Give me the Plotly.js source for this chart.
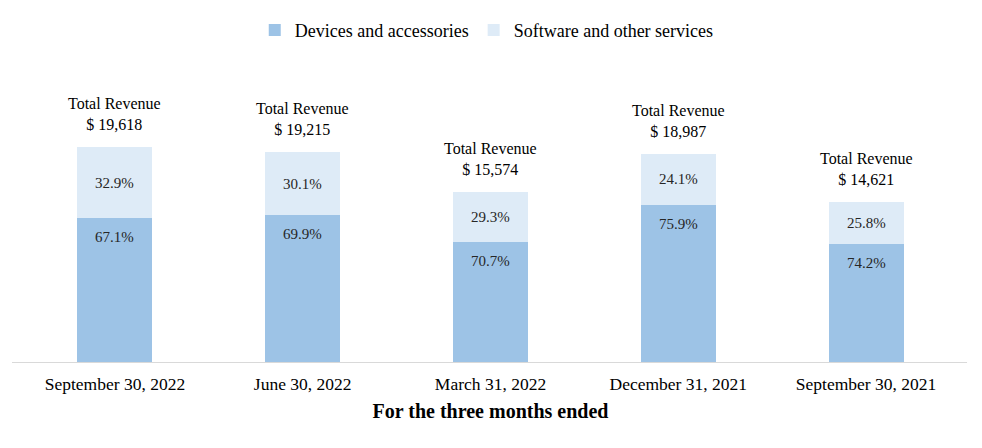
<!DOCTYPE html>
<html>
<head>
<meta charset="utf-8">
<script src="https://cdn.plot.ly/plotly-3.0.1.min.js"></script>
<style>
  html, body { margin: 0; padding: 0; background: #fff; }
  #chart { width: 982px; height: 448px; }
</style>
</head>
<body>
<div id="chart"></div>
<script>
// Trimestres (más reciente primero)
const quarters = ['September 30, 2022', 'June 30, 2022', 'March 31, 2022', 'December 31, 2021', 'September 30, 2021'];
const totalRevenue = [19618, 19215, 15574, 18987, 14621];
const devicesPct = [67.1, 69.9, 70.7, 75.9, 74.2];
const softwarePct = [32.9, 30.1, 29.3, 24.1, 25.8];

const fontFam = '"Liberation Serif", "Times New Roman", serif';

// Altura de cada segmento = total * porcentaje
const devicesVal = totalRevenue.map((t, i) => t * devicesPct[i] / 100);
const softwareVal = totalRevenue.map((t, i) => t * softwarePct[i] / 100);

const data = [
    {
        type: 'bar',
        name: 'Devices and accessories',
        x: quarters,
        y: devicesVal,
        marker: { color: '#9dc3e6' },
        hoverinfo: 'skip'
    },
    {
        type: 'bar',
        name: 'Software and other services',
        x: quarters,
        y: softwareVal,
        marker: { color: '#deebf7' },
        hoverinfo: 'skip'
    }
];

// Etiquetas: total encima, porcentajes dentro de cada segmento
const annotations = [];
quarters.forEach((q, i) => {
    annotations.push({
        x: q, y: totalRevenue[i], xref: 'x', yref: 'y',
        yanchor: 'bottom', yshift: 12, showarrow: false,
        text: 'Total Revenue<br>$ ' + totalRevenue[i].toLocaleString('en-US'),
        font: { family: fontFam, size: 16, color: '#000' }
    });
    annotations.push({
        x: q, y: devicesVal[i] + softwareVal[i] / 2, xref: 'x', yref: 'y',
        showarrow: false, text: softwarePct[i].toFixed(1) + '%',
        font: { family: fontFam, size: 15, color: '#262626' }
    });
    annotations.push({
        x: q, y: devicesVal[i], xref: 'x', yref: 'y',
        yanchor: 'top', yshift: -9, showarrow: false,
        text: devicesPct[i].toFixed(1) + '%',
        font: { family: fontFam, size: 15, color: '#262626' }
    });
});

const layout = {
    width: 982,
    height: 448,
    barmode: 'stack',
    bargap: 0.6,
    margin: { l: 21, r: 22, t: 100, b: 85 },
    paper_bgcolor: '#fff',
    plot_bgcolor: '#fff',
    font: { family: fontFam, color: '#000' },
    showlegend: true,
    legend: {
        orientation: 'h',
        traceorder: 'normal',
        x: 0.496, xanchor: 'center',
        y: 1.28, yanchor: 'middle',
        font: { family: fontFam, size: 18, color: '#000' },
        tracegroupgap: 0
    },
    xaxis: {
        showline: false,
        ticks: 'outside',
        ticklen: 5,
        tickcolor: 'rgba(0,0,0,0)',
        tickfont: { family: fontFam, size: 17.5, color: '#000' },
        title: {
            text: '<b>For the three months ended</b>',
            font: { family: fontFam, size: 20, color: '#000' },
            standoff: 10
        },
        fixedrange: true
    },
    yaxis: {
        range: [0, 23650],
        visible: false,
        showgrid: false,
        zeroline: false,
        fixedrange: true
    },
    shapes: [{
        type: 'line', xref: 'paper', yref: 'y',
        x0: -0.0096, x1: 1.0075, y0: 0, y1: 0,
        line: { color: '#d9d9d9', width: 2 }
    }],
    annotations: annotations
};

Plotly.newPlot('chart', data, layout, { displayModeBar: false, staticPlot: true });
</script>
</body>
</html>
